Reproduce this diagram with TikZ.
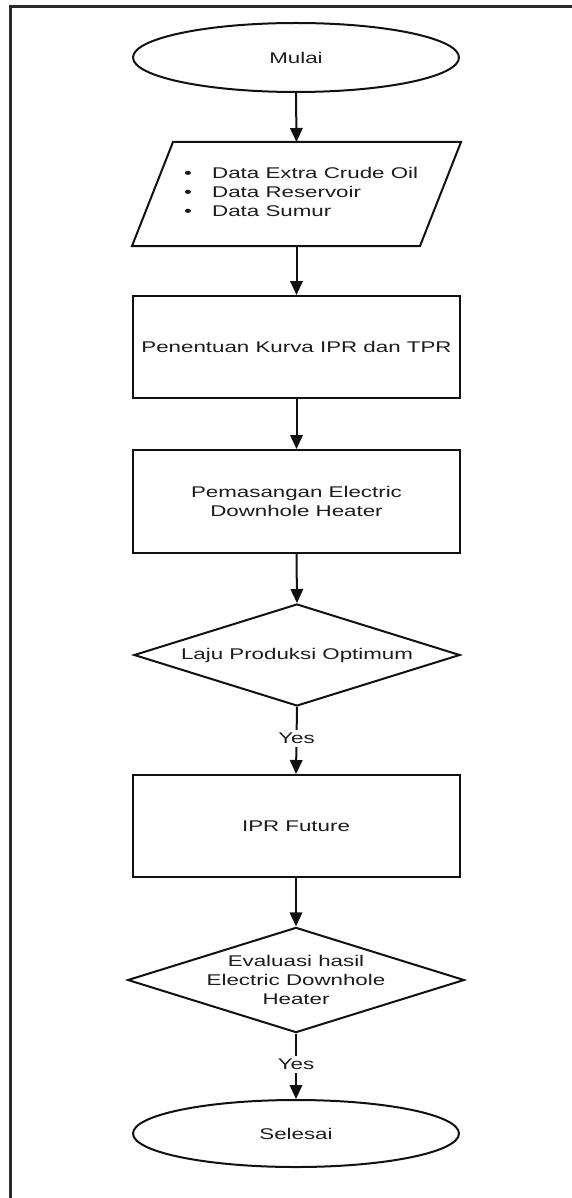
\documentclass[tikz,border=0pt]{standalone}
\usepackage{fontspec}
\setmainfont{Liberation Sans}[FakeStretch=1.44]
\usetikzlibrary{shapes.geometric,arrows.meta}
\definecolor{ink}{HTML}{111111}
\definecolor{txt}{HTML}{1C1C1C}
\definecolor{frame}{HTML}{2A2A2A}
\begin{document}
\begin{tikzpicture}[x=1pt,y=-1pt,
  every node/.style={font=\fontsize{15.5}{19}\selectfont, text=txt},
  shapebox/.style={draw=ink, line width=2pt, inner sep=0pt, align=center},
  term/.style={shapebox, ellipse, minimum width=326pt},
  procbox/.style={shapebox, rectangle, minimum width=327pt},
  decide/.style={shapebox, diamond, aspect=3.2, minimum width=326pt, minimum height=102pt},
  flow/.style={draw=ink, line width=2pt, -{Triangle[length=14pt,width=12.5pt]}},
  yeslabel/.style={fill=white, inner sep=3pt}
]
\useasboundingbox (0,0) rectangle (571,1198);
\draw[frame, line width=3pt] (572,7) -- (10,7) -- (10,1200);

\node[term, minimum height=69pt] (start) at (296,57.5) {Mulai};
\node[shapebox, draw=none, rectangle, minimum width=286pt, minimum height=102pt] (par) at (296.5,194) {};
\draw[ink, line width=2pt] ([xshift=20.5pt]par.north west) -- ([xshift=20.5pt]par.north east)
  -- ([xshift=-20.5pt]par.south east) -- ([xshift=-20.5pt]par.south west) -- cycle;
\node[align=left, anchor=west, inner sep=0pt] (partext) at (184,192)
  {\makebox[28pt][l]{•}Data Extra Crude Oil\\\makebox[28pt][l]{•}Data Reservoir\\\makebox[28pt][l]{•}Data Sumur};
\node[procbox, minimum height=102pt] (ipr) at (296.5,347) {Penentuan Kurva IPR dan TPR};
\node[procbox, minimum height=103pt] (edh) at (296.5,501.5) {Pemasangan Electric\\Downhole Heater};
\node[decide] (opt) at (297,655) {Laju Produksi Optimum};
\node[procbox, minimum height=102pt] (fut) at (296,826) {IPR Future};
\node[decide] (eval) at (296,980) {Evaluasi hasil\\Electric Downhole\\Heater};
\node[term, minimum height=67pt] (stop) at (296,1133.5) {Selesai};

\draw[flow] (start.south) -- (par.north);
\draw[flow] (par.south) -- (ipr.north);
\draw[flow] (ipr.south) -- (edh.north);
\draw[flow] (edh.south) -- (opt.north);
\draw[flow] (opt.south) -- (fut.north) node[midway, yeslabel, yshift=2pt] (yes1) {Yes};
\draw[flow] (fut.south) -- (eval.north);
\draw[flow] (eval.south) -- (stop.north) node[midway, yeslabel, yshift=2pt] (yes2) {Yes};
\end{tikzpicture}
\end{document}
